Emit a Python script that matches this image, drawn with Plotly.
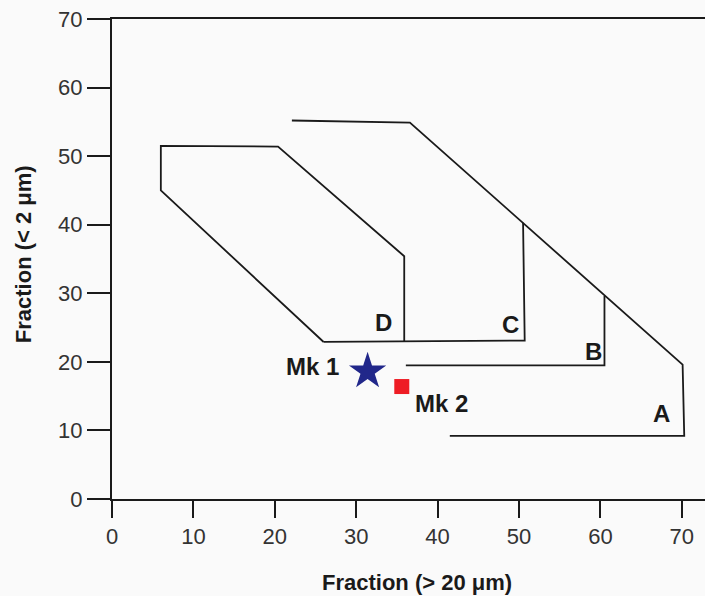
import plotly.graph_objects as go

# Boundary lines
line_a_x = [22.1, 36.6, 70.1, 70.3, 41.5]
line_a_y = [55.2, 54.9, 19.6, 9.2, 9.2]

line_b_x = [60.5, 60.5, 36.1]
line_b_y = [29.6, 19.5, 19.5]

line_c_x = [50.5, 50.7, 26.0]
line_c_y = [40.3, 23.1, 22.9]

line_d_x = [26.0, 6.0, 6.0, 20.4, 35.9, 35.9]
line_d_y = [22.9, 45.0, 51.5, 51.4, 35.4, 22.9]

zone_labels = ["A", "B", "C", "D"]
zone_label_x = [67.5, 59.1, 49.0, 33.4]
zone_label_y = [12.5, 21.5, 25.5, 25.7]

sample_names = ["Mk 1", "Mk 2"]
sample_x = [31.4, 35.6]
sample_y = [18.6, 16.4]
sample_label_x = [24.6, 40.5]
sample_label_y = [19.3, 14.0]

x_ticks = [0, 10, 20, 30, 40, 50, 60, 70]
y_ticks = [0, 10, 20, 30, 40, 50, 60, 70]

LINE = dict(color="#1a1a1a", width=1.8)
fig = go.Figure()
for xs, ys in [(line_a_x, line_a_y), (line_b_x, line_b_y),
               (line_c_x, line_c_y), (line_d_x, line_d_y)]:
    fig.add_trace(go.Scatter(x=xs, y=ys, mode="lines", line=LINE,
                             showlegend=False, hoverinfo="skip"))

fig.add_trace(go.Scatter(x=[sample_x[0]], y=[sample_y[0]], mode="markers",
                         marker=dict(symbol="star", size=28, color="#21278a",
                                     line=dict(width=0)),
                         showlegend=False, name=sample_names[0]))
fig.add_trace(go.Scatter(x=[sample_x[1]], y=[sample_y[1]], mode="markers",
                         marker=dict(symbol="square", size=15, color="#ee1c24",
                                     line=dict(width=0)),
                         showlegend=False, name=sample_names[1]))

LABEL_FONT = dict(family="Liberation Sans, Arial, sans-serif", size=24, color="#1a1a1a")
for t, x, y in zip(zone_labels, zone_label_x, zone_label_y):
    fig.add_annotation(x=x, y=y, text=f"<b>{t}</b>", showarrow=False, font=LABEL_FONT)
for t, x, y in zip(sample_names, sample_label_x, sample_label_y):
    fig.add_annotation(x=x, y=y, text=f"<b>{t}</b>", showarrow=False, font=LABEL_FONT)

TITLE_FONT = dict(family="Liberation Sans, Arial, sans-serif", size=22, color="#1a1a1a")
fig.add_annotation(xref="paper", yref="paper", x=0.514, y=0, yshift=-83,
                   text="<b>Fraction (> 20 μm)</b>", showarrow=False,
                   font=TITLE_FONT, yanchor="middle")
fig.add_annotation(xref="paper", yref="paper", x=0, xshift=-89, y=0.51,
                   text="<b>Fraction (< 2 μm)</b>", showarrow=False,
                   font=TITLE_FONT, textangle=-90, xanchor="center")

TICK_FONT = dict(family="Liberation Sans, Arial, sans-serif", size=22, color="#333333")
fig.update_layout(
    width=705, height=596,
    margin=dict(l=112, r=0, t=19, b=97),
    paper_bgcolor="#fafafa", plot_bgcolor="#fafafa",
    xaxis=dict(range=[0, 72.85], tickvals=x_ticks, ticktext=[str(v) for v in x_ticks],
               showgrid=False, zeroline=False, showline=True, mirror=True,
               linecolor="#1a1a1a", linewidth=2, ticks="outside", ticklen=17,
               tickwidth=2, tickcolor="#1a1a1a", tickfont=TICK_FONT),
    yaxis=dict(range=[0, 70], tickvals=y_ticks, ticktext=[str(v) for v in y_ticks],
               showgrid=False, zeroline=False, showline=True,
               linecolor="#1a1a1a", linewidth=2, ticks="outside", ticklen=23,
               tickwidth=2, tickcolor="#1a1a1a", tickfont=TICK_FONT),
)

fig.write_html("out.html", config={"displayModeBar": False},
               post_script="document.body.style.margin='0';document.body.style.overflow='hidden';")
